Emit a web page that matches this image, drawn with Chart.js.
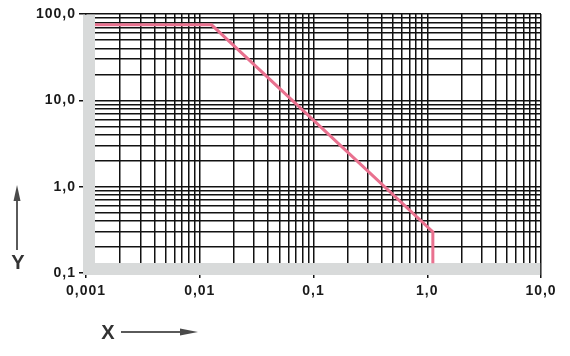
<!DOCTYPE html>
<html>
<head>
<meta charset="utf-8">
<script src="https://cdn.jsdelivr.net/npm/chart.js@4"></script>
<style>
  html, body { margin: 0; padding: 0; background: #ffffff; }
  #wrap { width: 570px; height: 356px; }
</style>
</head>
<body>
<div id="wrap"><canvas id="c" width="570" height="356"></canvas></div>
<script>
// ---- data ----
const xTickValues = [0.001, 0.01, 0.1, 1, 10];
const xTickLabels = ['0,001', '0,01', '0,1', '1,0', '10,0'];
const yTickValues = [0.1, 1, 10, 100];
const yTickLabels = ['0,1', '1,0', '10,0', '100,0'];
const curveX = [0.0012, 0.0127, 1.12, 1.12];
const curveY = [75, 75, 0.30, 0.13];
const xTitle = 'X';
const yTitle = 'Y';

function buildLogTicks(decades) {
  const out = [];
  for (let i = 0; i < decades.length - 1; i++) {
    for (let m = 1; m <= 9; m++) out.push(parseFloat((m * decades[i]).toPrecision(6)));
  }
  out.push(decades[decades.length - 1]);
  return out;
}
function findIdx(arr, v) {
  return arr.findIndex(t => Math.abs(t - v) / t < 1e-6);
}

const FONT = "'Liberation Sans', Arial, sans-serif";

const stripPlugin = {
  id: 'strips',
  beforeDraw(chart) {
    chart.ctx.letterSpacing = '1px';
  },
  beforeDatasetsDraw(chart) {
    const { ctx, chartArea: a } = chart;
    ctx.save();
    ctx.fillStyle = 'rgb(216,218,218)';
    ctx.fillRect(a.left - 3, a.top + 0.8, 12, a.bottom + 2 - (a.top + 0.8));
    ctx.fillRect(a.left - 3, a.bottom - 10, (a.right - 0.8) - (a.left - 3), 12);
    ctx.restore();
  },
  afterDraw(chart) {
    const { ctx } = chart;
    ctx.save();
    ctx.letterSpacing = '0px';
    ctx.strokeStyle = '#5a5a5a';
    ctx.fillStyle = '#4a4a4a';
    ctx.lineWidth = 2;
    ctx.beginPath(); ctx.moveTo(17, 250); ctx.lineTo(17, 196); ctx.stroke();
    ctx.beginPath(); ctx.moveTo(17, 185); ctx.lineTo(20.5, 201); ctx.lineTo(13.5, 201); ctx.closePath(); ctx.fill();
    ctx.beginPath(); ctx.moveTo(121, 332); ctx.lineTo(188, 332); ctx.stroke();
    ctx.beginPath(); ctx.moveTo(198, 332); ctx.lineTo(180, 328.5); ctx.lineTo(180, 335.5); ctx.closePath(); ctx.fill();
    ctx.fillStyle = '#333';
    ctx.font = 'bold 20px ' + FONT;
    ctx.textAlign = 'center';
    ctx.textBaseline = 'middle';
    ctx.fillText(yTitle, 18, 263);
    ctx.fillText(xTitle, 108, 333);
    ctx.restore();
  }
};

new Chart(document.getElementById('c'), {
  type: 'line',
  data: {
    datasets: [{
      data: curveX.map((x, i) => ({ x: x, y: curveY[i] })),
      borderColor: '#e9718f',
      borderWidth: 3,
      pointRadius: 0,
      tension: 0,
      fill: false
    }]
  },
  options: {
    responsive: false,
    animation: false,
    layout: { padding: { left: 0, right: 29, top: 14, bottom: 0 } },
    plugins: { legend: { display: false }, tooltip: { enabled: false } },
    scales: {
      x: {
        type: 'logarithmic',
        min: xTickValues[0],
        max: xTickValues[xTickValues.length - 1],
        afterBuildTicks: s => { s.ticks = buildLogTicks(xTickValues).map(v => ({ value: v })); },
        afterFit: s => { s.height = 83; },
        border: { display: false },
        grid: {
          color: '#111',
          lineWidth: 1.5,
          tickLength: 5,
          tickWidth: 1.5,
          tickColor: c => (c.tick && findIdx(xTickValues, c.tick.value) >= 0) ? '#111' : 'rgba(0,0,0,0)'
        },
        ticks: {
          autoSkip: false,
          maxRotation: 0,
          padding: 5,
          color: '#1a1a1a',
          font: { family: FONT, size: 14, weight: 'bold' },
          callback: v => { const i = findIdx(xTickValues, v); return i >= 0 ? xTickLabels[i] : ''; }
        }
      },
      y: {
        type: 'logarithmic',
        min: yTickValues[0],
        max: yTickValues[yTickValues.length - 1],
        afterBuildTicks: s => { s.ticks = buildLogTicks(yTickValues).map(v => ({ value: v })); },
        afterFit: s => { s.width = 86; },
        border: { display: false },
        grid: {
          color: '#111',
          lineWidth: 1.5,
          tickLength: 7,
          tickWidth: 1.5,
          tickColor: c => (c.tick && findIdx(yTickValues, c.tick.value) >= 0) ? '#111' : 'rgba(0,0,0,0)'
        },
        ticks: {
          autoSkip: false,
          padding: 3,
          color: '#1a1a1a',
          font: { family: FONT, size: 14, weight: 'bold' },
          callback: v => { const i = findIdx(yTickValues, v); return i >= 0 ? yTickLabels[i] : ''; }
        }
      }
    }
  },
  plugins: [stripPlugin]
});
</script>
</body>
</html>
